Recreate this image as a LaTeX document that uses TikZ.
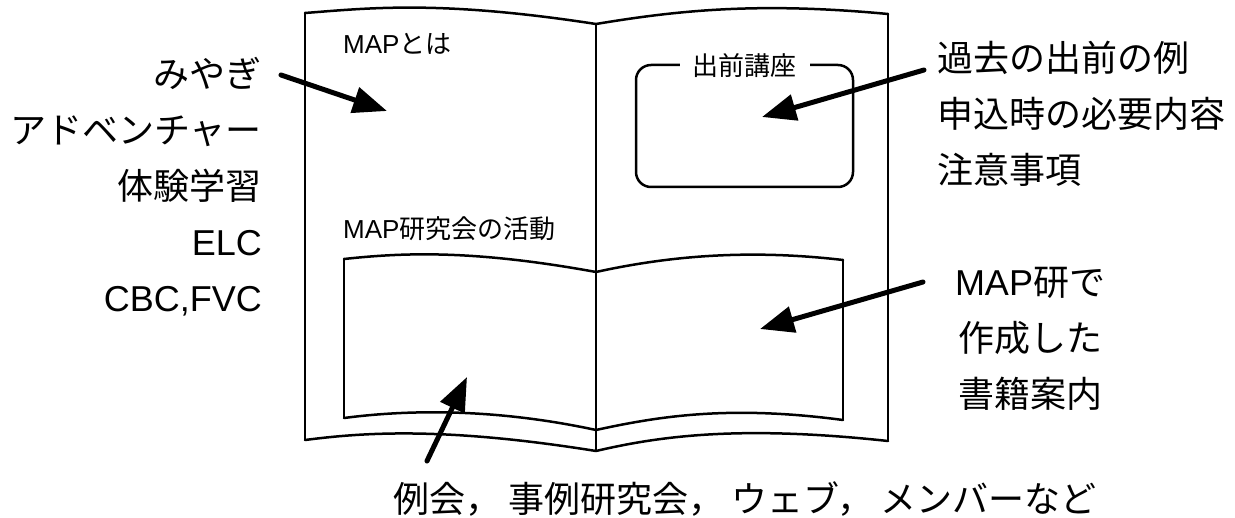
\documentclass[tikz,border=0pt]{standalone}
\usepackage{fontspec}
\setmainfont{Noto Sans CJK JP}
\newfontfamily\lat{Liberation Sans}
\usetikzlibrary{arrows.meta}
\begin{document}
\begin{tikzpicture}[x=1pt,y=-1pt, line cap=round, line join=round,
  pg/.style={line width=2.5pt},
  bigarrow/.style={line width=5pt,-{Triangle[length=34pt,width=26pt]}},
  lbl/.style={inner sep=0pt, font=\fontsize{26pt}{30pt}\selectfont},
  big/.style={inner sep=0pt, font=\fontsize{36pt}{56pt}\selectfont}]
\useasboundingbox (0,0) rectangle (1235,518);

% book outline
\coordinate (LT) at (305,13);
\coordinate (ST) at (596,24);
\coordinate (RT) at (888,14);
\coordinate (LB) at (305,440);
\coordinate (SB) at (596,451);
\coordinate (RB) at (888,441);
\coordinate (ILT) at (344,259);
\coordinate (IST) at (596,272);
\coordinate (IRT) at (843,260);
\coordinate (ILB) at (344,418);
\coordinate (ISB) at (596,430);
\coordinate (IRB) at (843,420);

\draw[pg] (LT) .. controls (370,8) and (440,0) .. (ST) .. controls (680,10) and (760,2) .. (RT);
\draw[pg] (LB) .. controls (360,433) and (440,426) .. (SB) .. controls (660,436) and (740,425) .. (RB);
\draw[pg] (LT) -- (LB);
\draw[pg] (ST) -- (SB);
\draw[pg] (RT) -- (RB);
\draw[pg] (ILT) .. controls (400,253) and (470,249) .. (IST) .. controls (660,258) and (740,248) .. (IRT);
\draw[pg] (ILB) .. controls (390,412) and (480,405) .. (ISB) .. controls (660,416) and (730,405) .. (IRB);
\draw[pg] (ILT) -- (ILB);
\draw[pg] (IRT) -- (IRB);

% page labels
\node[lbl, anchor=west] (mapwa) at (343,44) {{\lat MAP}とは};
\node[lbl, anchor=west] (katsudo) at (343,229) {{\lat MAP}研究会の活動};

% rounded box
\node[draw, line width=2.5pt, rounded corners=15pt, minimum width=217pt, minimum height=122pt, inner sep=0pt] (box) at (744.5,126) {};
\node[lbl, fill=white, inner xsep=13pt, inner ysep=2pt] (boxtitle) at ([yshift=-2pt]box.north) {出前講座};

% texts
\node[big, anchor=east, align=right] (leftlist) at (262,187)
  {みやぎ\\アドベンチャー\\体験学習\\{\lat ELC}\\{\lat CBC,FVC}};
\node[big, anchor=west, align=left] (rightlist) at (937,114)
  {過去の出前の例\\申込時の必要内容\\注意事項};
\node[big, align=center] (books) at (1030,339)
  {{\lat MAP}研で\\作成した\\書籍案内};
\node[big] (bottomtxt) at (745,499)
  {例会，\hspace{7pt}事例研究会，\hspace{7pt}ウェブ，\hspace{7pt}メンバーなど};

% arrows
\coordinate (a1s) at (281,75);
\coordinate (a1t) at (387,111);
\coordinate (a2s) at (924,70);
\coordinate (a2t) at (762,117);
\coordinate (a3s) at (923,282);
\coordinate (a3t) at (760,329);
\coordinate (a4s) at (427,461);
\coordinate (a4t) at (467,377);
\draw[bigarrow] (a1s) -- (a1t);
\draw[bigarrow] (a2s) -- (a2t);
\draw[bigarrow] (a3s) -- (a3t);
\draw[bigarrow] (a4s) -- (a4t);
\end{tikzpicture}
\end{document}
